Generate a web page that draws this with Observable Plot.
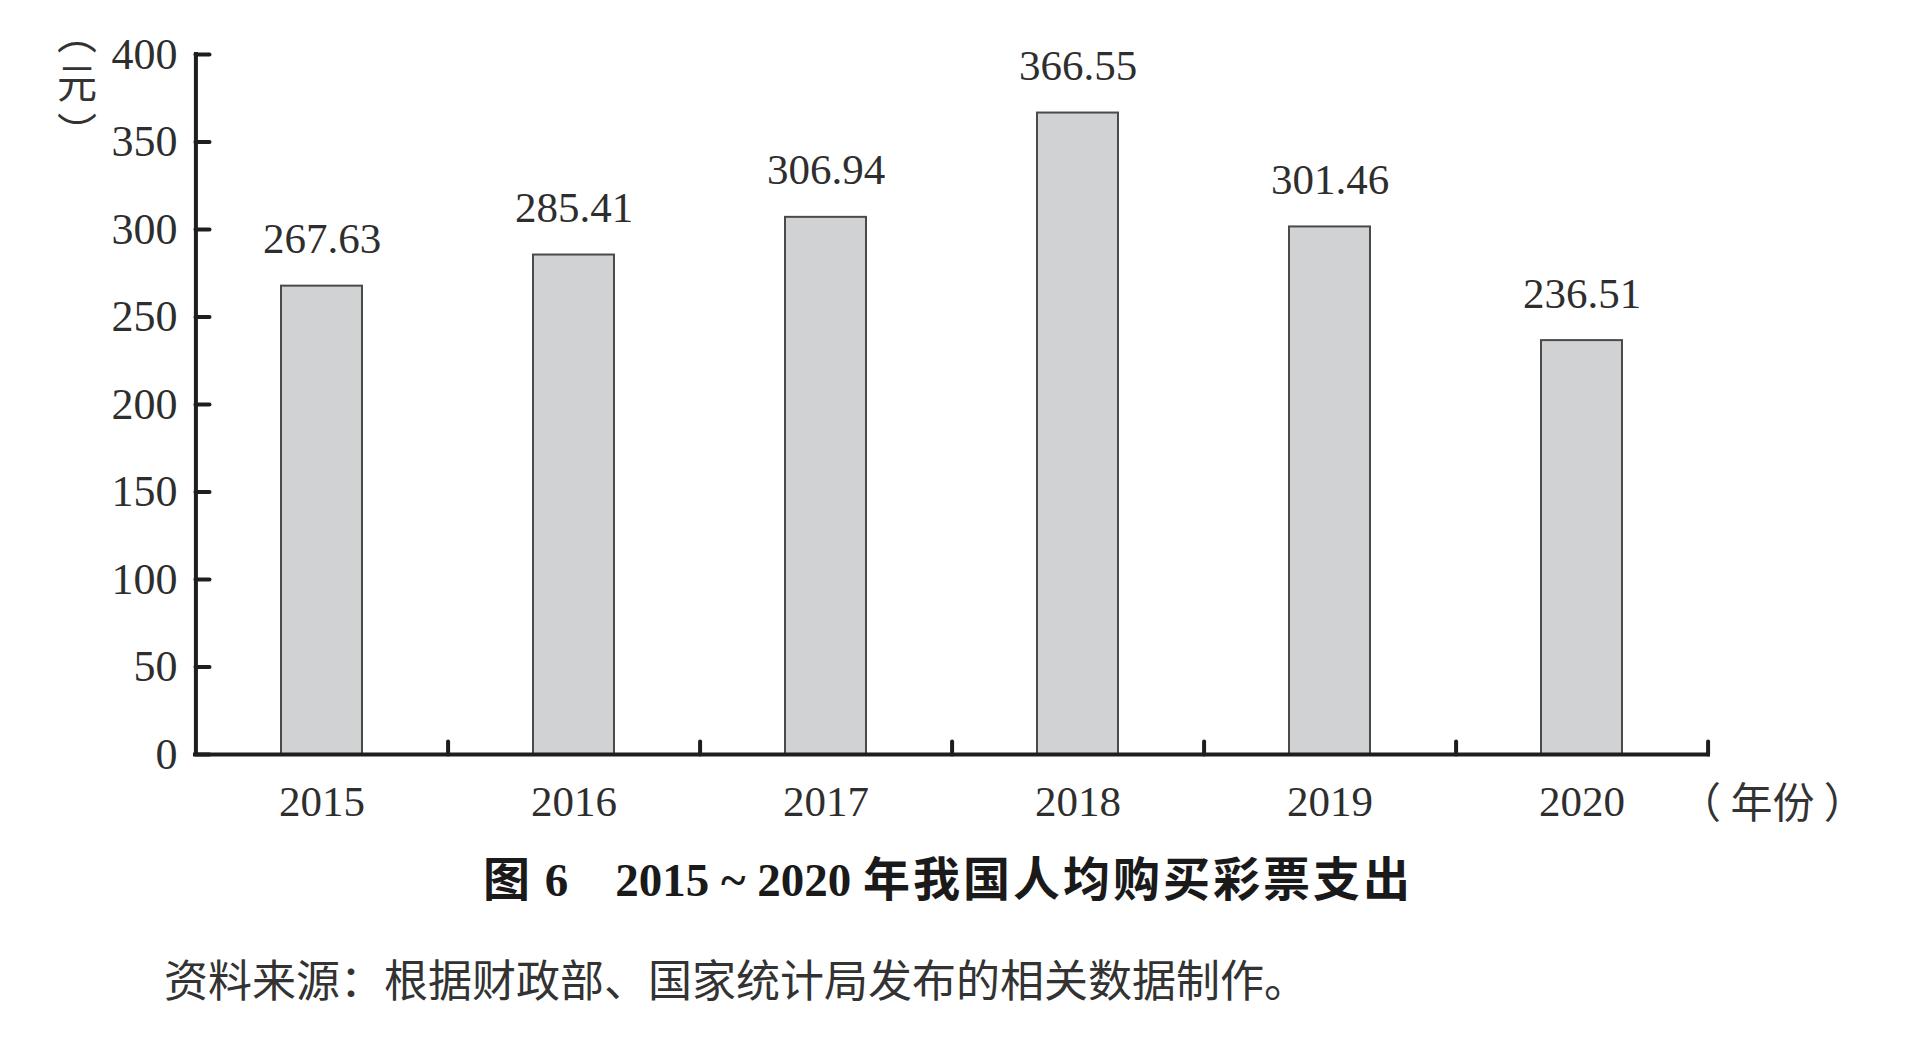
<!DOCTYPE html>
<html>
<head>
<meta charset="utf-8">
<script src="https://cdn.jsdelivr.net/npm/d3@7"></script>
<script src="https://cdn.jsdelivr.net/npm/@observablehq/plot@0.6"></script>
<style>
  html, body { margin: 0; padding: 0; background: #fff; }
  #wrap { position: relative; width: 1920px; height: 1051px; overflow: hidden; }
  #title {
    position: absolute; left: 0; top: 857px; width: 1896px; text-align: center;
    font-family: "Liberation Serif", "Noto Sans CJK SC", serif; font-weight: bold;
    font-size: 47px; line-height: 1; color: #1a1a1a; white-space: pre;
  }
  #title .cjk { letter-spacing: 3px; }
  #caption {
    position: absolute; left: 164px; top: 956px;
    font-family: "Noto Sans CJK SC", sans-serif; font-weight: 400;
    font-size: 44px; line-height: 1; color: #333; white-space: pre;
  }
</style>
</head>
<body>
<div id="wrap">
  <div id="chart"></div>
  <div id="title"><span class="cjk">图</span> 6　2015 ~ 2020 <span class="cjk">年我国人均购买彩票支出</span></div>
  <div id="caption">资料来源：根据财政部、国家统计局发布的相关数据制作。</div>
</div>
<script>
const years = ["2015", "2016", "2017", "2018", "2019", "2020"];
const values = [267.63, 285.41, 306.94, 366.55, 301.46, 236.51];
const yTicks = [0, 50, 100, 150, 200, 250, 300, 350, 400];
const yUnit = "（元）";
const xUnit = "（ 年份 ）";

const data = years.map((year, i) => ({year, value: values[i]}));

const W = 1920, H = 840;
const mL = 195, mR = 212, mT = 54, mB = 86;
const step = (W - mL - mR) / years.length;
const axisColor = "#1e1e1e";
const textColor = "#2e2e2e";

const lineShape = {
  draw(context, l) { context.moveTo(0, 0); context.lineTo(0, -l); }
};

const chart = Plot.plot({
  width: W, height: H,
  marginLeft: mL, marginRight: mR, marginTop: mT, marginBottom: mB,
  style: {fontFamily: "'Liberation Serif', serif", fontSize: "43px", color: textColor, background: "#fff"},
  x: {type: "band", domain: years, paddingInner: 0.68, paddingOuter: 0.34},
  y: {domain: [0, 400], ticks: yTicks},
  marks: [
    Plot.barY(data, {x: "year", y: "value", fill: "#d1d2d4", stroke: "#4a4a4a", strokeWidth: 2}),
    Plot.text(data, {x: "year", y: "value", text: d => d.value.toFixed(2), lineAnchor: "bottom", dy: -33, fontSize: 43, fill: textColor}),
    // y axis line
    Plot.ruleX([years[0]], {y1: 0, y2: 400, dx: -step / 2, stroke: axisColor, strokeWidth: 4, strokeLinecap: "square"}),
    // x axis line
    Plot.ruleY([0], {stroke: axisColor, strokeWidth: 4, strokeLinecap: "square"}),
    // y ticks (pointing inward)
    Plot.vector(yTicks, {y: d => d, frameAnchor: "left", rotate: 90, length: 14, anchor: "start", shape: lineShape, stroke: axisColor, strokeWidth: 4}),
    // x ticks at band boundaries (pointing upward)
    Plot.vector(years, {x: d => d, y: 0, dx: step / 2, rotate: 0, length: 13, anchor: "start", shape: lineShape, stroke: axisColor, strokeWidth: 4}),
    Plot.axisY({ticks: yTicks, tickSize: 0, tickPadding: 18, label: null, fontSize: 44}),
    Plot.axisX({tickSize: 0, tickPadding: 31, label: null, fontSize: 43})
  ]
});

document.getElementById("chart").appendChild(chart);

const svg = d3.select(chart);
// vertical y unit label
svg.append("text")
  .attr("x", 77).attr("y", 14)
  .attr("writing-mode", "vertical-rl")
  .style("writing-mode", "vertical-rl")
  .style("letter-spacing", "9px")
  .attr("text-anchor", "start")
  .attr("font-family", "'Noto Sans CJK SC', sans-serif")
  .attr("font-size", 40).attr("fill", "#333")
  .text(yUnit);
// x unit label
svg.append("text")
  .attr("x", 1679).attr("y", 818)
  .attr("text-anchor", "start")
  .attr("font-family", "'Noto Sans CJK SC', sans-serif")
  .attr("font-size", 42).attr("fill", "#333")
  .text(xUnit);
</script>
</body>
</html>
